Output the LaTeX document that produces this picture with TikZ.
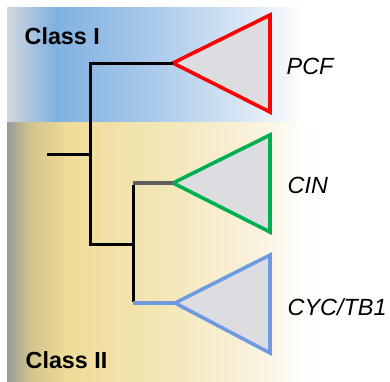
\documentclass[tikz,border=0pt]{standalone}
\usepackage{fontspec}
\setmainfont{Liberation Sans}

\definecolor{bandgray}{HTML}{D2D6DE}
\definecolor{bandblue}{HTML}{80B1E0}
\definecolor{bandbluemid}{HTML}{A9C9EA}
\definecolor{bandbluelight}{HTML}{DCE8F5}
\definecolor{bandyelgray}{HTML}{9A9A98}
\definecolor{bandyelmid}{HTML}{D2C48E}
\definecolor{bandyel}{HTML}{F0DC98}
\definecolor{bandyelsoft}{HTML}{F3E6B6}
\definecolor{bandyellight}{HTML}{F9F2DC}
\definecolor{cladefill}{HTML}{DCDDE0}
\definecolor{pcfred}{HTML}{FF0000}
\definecolor{cingreen}{HTML}{00B050}
\definecolor{cycblue}{HTML}{6F9AE2}
\definecolor{stemgray}{HTML}{5E5E5E}

\tikzset{
  band/.style={draw=none},
  branch/.style={line width=3pt, line cap=butt, line join=miter},
  clade/.style={line width=3.6pt, fill=cladefill, line join=miter},
  classlabel/.style={font=\bfseries\fontsize{23.3}{26}\selectfont, anchor=base west, inner sep=0pt},
  familylabel/.style={font=\itshape\fontsize{23.4}{26}\selectfont, anchor=base west, inner sep=0pt},
}

\begin{document}
\begin{tikzpicture}[x=1pt, y=-1pt]
  \useasboundingbox (0,0) rectangle (390,381);

  % Class I background band (gray edge, blue, fading to white)
  \shade[band, left color=bandgray, right color=bandblue] (7,7) rectangle (55.5,122);
  \shade[band, left color=bandblue, right color=bandbluemid] (55,7) rectangle (150.5,122);
  \shade[band, left color=bandbluemid, right color=bandbluelight] (150,7) rectangle (250.5,122);
  \shade[band, left color=bandbluelight, right color=white] (250,7) rectangle (305,122);

  % Class II background band (gray edge, yellow, fading to white)
  \shade[band, left color=bandyelgray, right color=bandyelmid] (7,122) rectangle (30.5,381);
  \shade[band, left color=bandyelmid, right color=bandyel] (30,122) rectangle (68.5,381);
  \shade[band, left color=bandyel, right color=bandyelsoft] (68,122) rectangle (160.5,381);
  \shade[band, left color=bandyelsoft, right color=bandyellight] (160,122) rectangle (255.5,381);
  \shade[band, left color=bandyellight, right color=white] (255,122) rectangle (310,381);

  % class labels
  \node[classlabel] (classI) at (24.5,44) {Class I};
  \node[classlabel] (classII) at (25.5,368) {Class II};

  % tree junctions
  \coordinate (stub) at (47,154);
  \coordinate (root) at (90,154);
  \coordinate (top) at (90,63);
  \coordinate (low) at (90,244);
  \coordinate (sub) at (133,244);
  \coordinate (subtop) at (133,183);
  \coordinate (subbot) at (133,303);

  % clade triangles (apex, upper right, lower right)
  \coordinate (pcf) at (173,63);
  \coordinate (cin) at (173,183);
  \coordinate (cyc) at (175,303);
  \draw[clade, draw=pcfred] (pcf) -- (270,15) -- (270,112) -- cycle;
  \draw[clade, draw=cingreen] (cin) -- (270,135) -- (270,232) -- cycle;
  \draw[clade, draw=cycblue] (cyc) -- (270,255) -- (270,353) -- cycle;

  % branches
  \draw[branch] (stub) -- (root);
  \draw[branch] (pcf) -- (top) -- (low) -- (sub);
  \draw[branch] ([yshift=-1.5pt]subtop) -- ([yshift=1.5pt]subbot);
  \draw[branch, draw=stemgray, line width=3.4pt] (subtop) -- (cin);
  \draw[branch, draw=cycblue, line width=3.4pt] (subbot) -- (cyc);

  % clade names
  \node[familylabel] (pcfname) at (286.5,74) {PCF};
  \node[familylabel] (cinname) at (287.5,193) {CIN};
  \node[familylabel] (cycname) at (287.5,315.5) {CYC/TB1};
\end{tikzpicture}
\end{document}
